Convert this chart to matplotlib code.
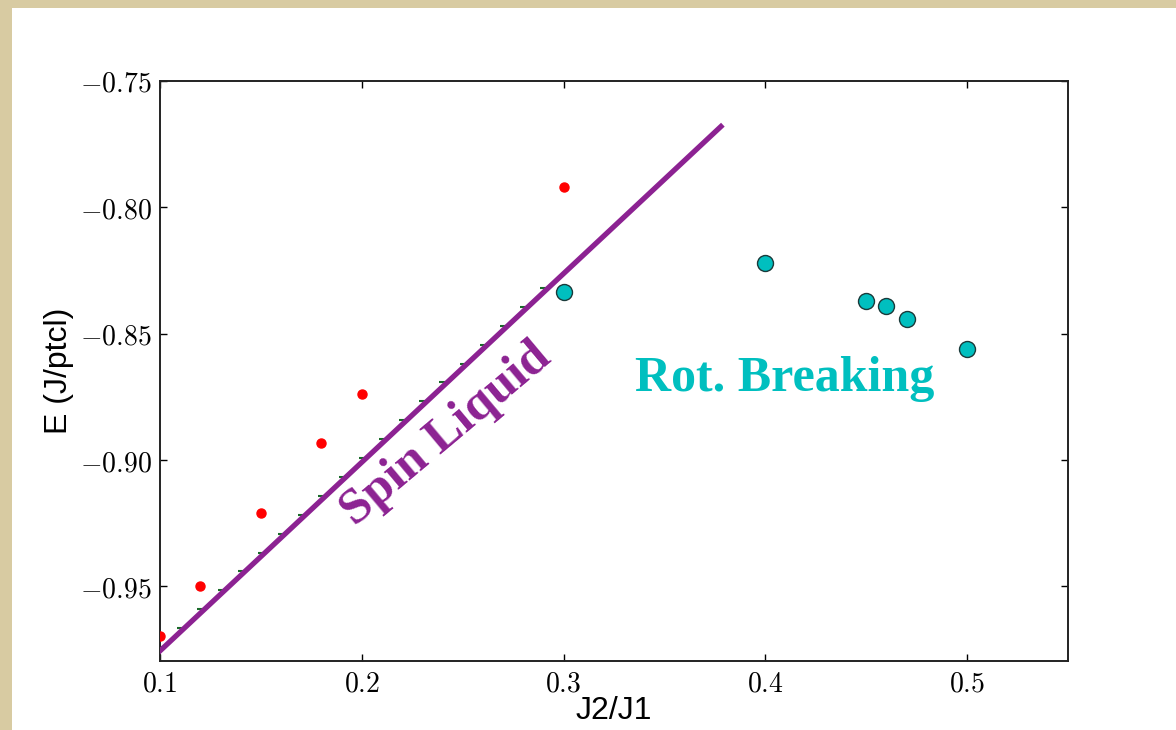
import matplotlib
matplotlib.use('Agg')
from matplotlib import pyplot as plt
from matplotlib.patches import Rectangle
from matplotlib.ticker import FixedLocator, FuncFormatter

plt.rcParams['mathtext.fontset'] = 'cm'

# red dots
redX = [0.10, 0.12, 0.15, 0.18, 0.20, 0.30]
redY = [-0.9698, -0.9500, -0.9210, -0.8932, -0.8740, -0.7920]

# cyan circles (rotation breaking)
cyanX = [0.30, 0.40, 0.45, 0.46, 0.47, 0.50]
cyanY = [-0.8335, -0.8222, -0.8372, -0.8390, -0.8440, -0.8560]

# spin liquid fit line
lineX = [0.10, 0.378]
lineY = [-0.9755, -0.7680]

# tiny dash markers along the line
dashX = [0.10, 0.11, 0.12, 0.13, 0.14, 0.15, 0.16, 0.17, 0.18, 0.19,
         0.20, 0.21, 0.22, 0.23, 0.24, 0.25, 0.26, 0.27, 0.28, 0.29]
dashY = [-0.9740, -0.9665, -0.9590, -0.9515, -0.9440, -0.9366, -0.9291,
         -0.9216, -0.9141, -0.9066, -0.8992, -0.8917, -0.8842, -0.8767,
         -0.8692, -0.8618, -0.8543, -0.8468, -0.8393, -0.8318]

xTicks = [0.1, 0.2, 0.3, 0.4, 0.5]
yTicks = [-0.95, -0.90, -0.85, -0.80, -0.75]

purple = '#8c2292'
cyan = '#00bfbf'

fig = plt.figure(figsize=(11.76, 7.30), dpi=100)
fig.patch.set_facecolor('#d8cba2')
# white slide panel, behind the axes
fig.patches.append(Rectangle((12 / 1176.0, 0), 1.0, 1 - 8 / 730.0,
                             transform=fig.transFigure, facecolor='white',
                             edgecolor='none', zorder=-5))

ax = fig.add_axes([160 / 1176.0, 1 - 661 / 730.0, 908 / 1176.0, 580 / 730.0])

ax.plot(dashX, dashY, linestyle='none', marker='_', markersize=5,
        markeredgewidth=1.5, color='#1a6b2a', zorder=2)
ax.plot(lineX, lineY, color=purple, linewidth=3.8, zorder=3)
ax.plot(redX, redY, linestyle='none', marker='o', markersize=6.5,
        color='red', markeredgecolor='red', zorder=4)
ax.plot(cyanX, cyanY, linestyle='none', marker='o', markersize=11.5,
        markerfacecolor=cyan, markeredgecolor='#1a3a3a',
        markeredgewidth=1.0, zorder=4)

ax.text(0.2420, -0.8900, 'Spin Liquid', color=purple, fontsize=36.5,
        fontweight='bold', family='Liberation Serif', rotation=40,
        ha='center', va='center', rotation_mode='anchor')
ax.text(0.4098, -0.8680, 'Rot. Breaking', color=cyan, fontsize=36,
        fontweight='bold', family='Liberation Serif',
        ha='center', va='center')

ax.set_xlim(0.1, 0.55)
ax.set_ylim(-0.9795, -0.75)
ax.xaxis.set_major_locator(FixedLocator(xTicks))
ax.yaxis.set_major_locator(FixedLocator(yTicks))
ax.xaxis.set_major_formatter(FuncFormatter(lambda v, p: '$%.1f$' % v))
ax.yaxis.set_major_formatter(FuncFormatter(lambda v, p: '$%.2f$' % v))
ax.tick_params(direction='in', length=5, width=1, labelsize=20,
               top=True, right=True, pad=6)

for sp in ax.spines.values():
    sp.set_linewidth(1.4)
    sp.set_color('#222222')

ax.set_xlabel('J2/J1', fontsize=23, family='Liberation Sans', labelpad=-1)
ax.set_ylabel('E (J/ptcl)', fontsize=23, family='Liberation Sans', labelpad=4)

plt.savefig('out.png', dpi=100, facecolor=fig.get_facecolor())
